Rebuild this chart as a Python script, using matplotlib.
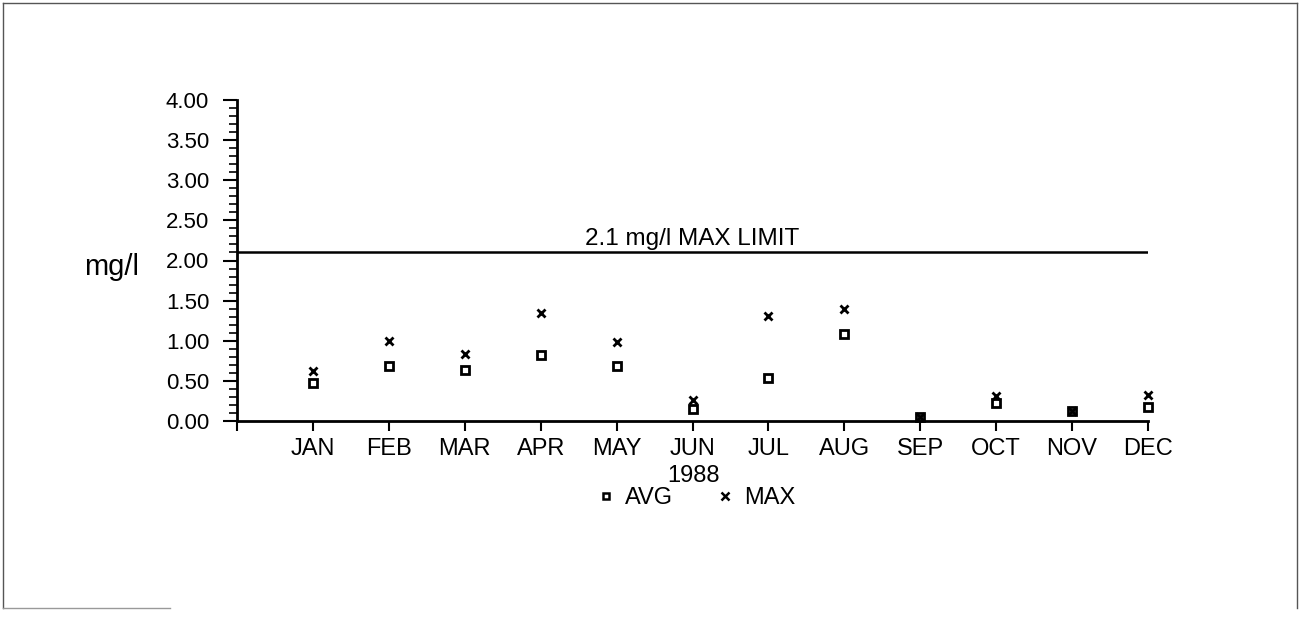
import matplotlib
matplotlib.use("Agg")
import matplotlib.pyplot as plt
from matplotlib.lines import Line2D
import numpy as np

plt.rcParams['font.family'] = ['Liberation Sans', 'DejaVu Sans']

months = ["JAN", "FEB", "MAR", "APR", "MAY", "JUN", "JUL", "AUG", "SEP", "OCT", "NOV", "DEC"]
avg_vals = [0.47, 0.68, 0.64, 0.82, 0.69, 0.15, 0.54, 1.08, 0.05, 0.22, 0.13, 0.17]
max_vals = [0.62, 1.00, 0.84, 1.35, 0.98, 0.26, 1.31, 1.39, 0.05, 0.31, 0.13, 0.32]
limit_value = 2.1
limit_label = "2.1 mg/l MAX LIMIT"
year_label = "1988"
y_label = "mg/l"

W, H = 1301, 620
fig = plt.figure(figsize=(W / 100, H / 100), dpi=100)
ax = fig.add_axes([237 / W, 1 - 421 / H, (1148 - 237) / W, (421 - 100) / H])

x = np.arange(1, len(months) + 1)
ax.axhline(limit_value, color='black', lw=1.8)
ax.plot(x, avg_vals, linestyle='none', marker='s', markersize=5.5, markerfacecolor='none',
        markeredgecolor='black', markeredgewidth=2.0, clip_on=False, zorder=3)
ax.plot(x, max_vals, linestyle='none', marker='x', markersize=6, markeredgecolor='black',
        markeredgewidth=2.0, clip_on=False, zorder=3)

ax.set_xlim(0, 12)
ax.set_ylim(0, 4)
for s in ['top', 'right']:
    ax.spines[s].set_visible(False)
for s in ['left', 'bottom']:
    ax.spines[s].set_linewidth(2)

yt = np.arange(0, 4.01, 0.5)
ax.set_yticks(yt)
ax.set_yticklabels([f"{v:.2f}" for v in yt], fontsize=16)
ax.set_yticks(np.arange(0, 4.01, 0.1), minor=True)
ax.tick_params(axis='y', which='major', length=10, width=1.5, direction='out', pad=10)
ax.tick_params(axis='y', which='minor', length=5.5, width=1.2, direction='out')

ax.set_xticks(np.arange(0, 13))
ax.set_xticklabels([""] + months, fontsize=17)
ax.tick_params(axis='x', which='major', length=7, width=1.5, direction='out', pad=5)

ax.text(6.0, 2.19, limit_label, ha='center', va='baseline', fontsize=17.5)
fig.text(693 / W, 1 - 476 / H, year_label, ha='center', va='center', fontsize=17)
fig.text(112 / W, 1 - 267 / H, y_label, ha='center', va='center', fontsize=21)

handles = [
    Line2D([], [], linestyle='none', marker='s', markersize=5, markerfacecolor='none',
           markeredgecolor='black', markeredgewidth=1.8),
    Line2D([], [], linestyle='none', marker='x', markersize=5.5, markeredgecolor='black',
           markeredgewidth=1.8),
]
fig.legend(handles, ["AVG", "MAX"], loc='center', bbox_to_anchor=(695 / W, 1 - 498 / H),
           ncol=2, frameon=False, fontsize=17, handlelength=1.0, handletextpad=0.3,
           columnspacing=1.7, borderpad=0, borderaxespad=0)

# frame around figure
border = dict(color='#555555', lw=1.0, transform=fig.transFigure)
fig.add_artist(Line2D([3 / W, 3 / W], [1 - 3 / H, 1 - 608 / H], **border))
fig.add_artist(Line2D([3 / W, 1297 / W], [1 - 3 / H, 1 - 3 / H], **border))
fig.add_artist(Line2D([1297 / W, 1297 / W], [1 - 3 / H, 1 - 608 / H], **border))
fig.add_artist(Line2D([3 / W, 170 / W], [1 - 608 / H, 1 - 608 / H], color='#999999', lw=1.0,
                      transform=fig.transFigure))

fig.savefig("out.png", dpi=100)
